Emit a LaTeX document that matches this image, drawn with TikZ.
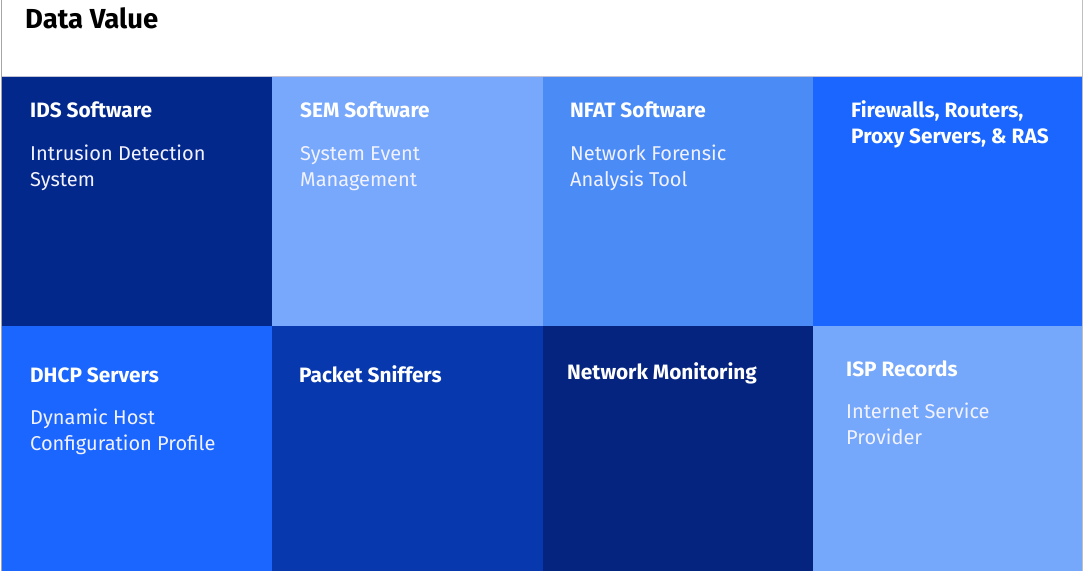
\documentclass[tikz,border=0pt]{standalone}
\usepackage{fontspec}
\setmainfont{Fira Sans}
\definecolor{cIDS}{HTML}{03288C}
\definecolor{cSEM}{HTML}{77A8FC}
\definecolor{cNFAT}{HTML}{4B8BF6}
\definecolor{cFW}{HTML}{1A66FE}
\definecolor{cDHCP}{HTML}{1A66FE}
\definecolor{cPS}{HTML}{0838AE}
\definecolor{cNM}{HTML}{05247F}
\definecolor{cISP}{HTML}{75A7FB}
\tikzset{
  ttl/.style={anchor=base west, inner sep=0pt, text=white, font=\fontsize{20.8}{24}\selectfont\bfseries},
  body/.style={anchor=base west, inner sep=0pt, text=white!95!blue, font=\fontsize{20}{24}\selectfont},
  head/.style={anchor=base west, inner sep=0pt, text=black, font=\fontsize{27.5}{32}\selectfont\bfseries},
}
\begin{document}
\begin{tikzpicture}[x=1pt,y=-1pt]
\useasboundingbox (0,0) rectangle (1084,571);
\fill[white] (0,0) rectangle (1084,571);
% cells
\fill[cIDS]  (2,77) rectangle (272,326);
\fill[cSEM]  (272,77) rectangle (543,326);
\fill[cNFAT] (543,77) rectangle (813,326);
\fill[cFW]   (813,77) rectangle (1082,326);
\fill[cDHCP] (2,326) rectangle (272,571);
\fill[cPS]   (272,326) rectangle (543,571);
\fill[cNM]   (543,326) rectangle (813,571);
\fill[cISP]  (813,326) rectangle (1082,571);
\draw[gray!70, line width=1pt] (1.5,0) -- (1.5,571);
\draw[gray!50, line width=1pt] (1082.5,0) -- (1082.5,571);
\draw[blue!20!gray!40, line width=0.8pt] (2,76.5) -- (1082,76.5);
% header
\node[head] (title) at (25,28) {Data Value};
% row 1
\node[ttl]  (idsT)  at (30,117) {IDS Software};
\node[body] (idsB1) at (30,160) {Intrusion Detection};
\node[body] (idsB2) at (30,186) {System};
\node[ttl]  (semT)  at (300,117) {SEM Software};
\node[body] (semB1) at (300,160) {System Event};
\node[body] (semB2) at (300,186) {Management};
\node[ttl]  (nfT)   at (570,117) {NFAT Software};
\node[body] (nfB1)  at (570,160) {Network Forensic};
\node[body] (nfB2)  at (570,186) {Analysis Tool};
\node[ttl]  (fwT1)  at (851,117) {Firewalls, Routers,};
\node[ttl]  (fwT2)  at (851,143) {Proxy Servers, \& RAS};
% row 2
\node[ttl]  (dhT)   at (30,382) {DHCP Servers};
\node[body] (dhB1)  at (30,424) {Dynamic Host};
\node[body] (dhB2)  at (30,450) {Configuration Profile};
\node[ttl]  (psT)   at (299,382) {Packet Sniffers};
\node[ttl]  (nmT)   at (567,379) {Network Monitoring};
\node[ttl]  (ispT)  at (846,376) {ISP Records};
\node[body] (ispB1) at (846,418) {Internet Service};
\node[body] (ispB2) at (846,444) {Provider};
\end{tikzpicture}
\end{document}
